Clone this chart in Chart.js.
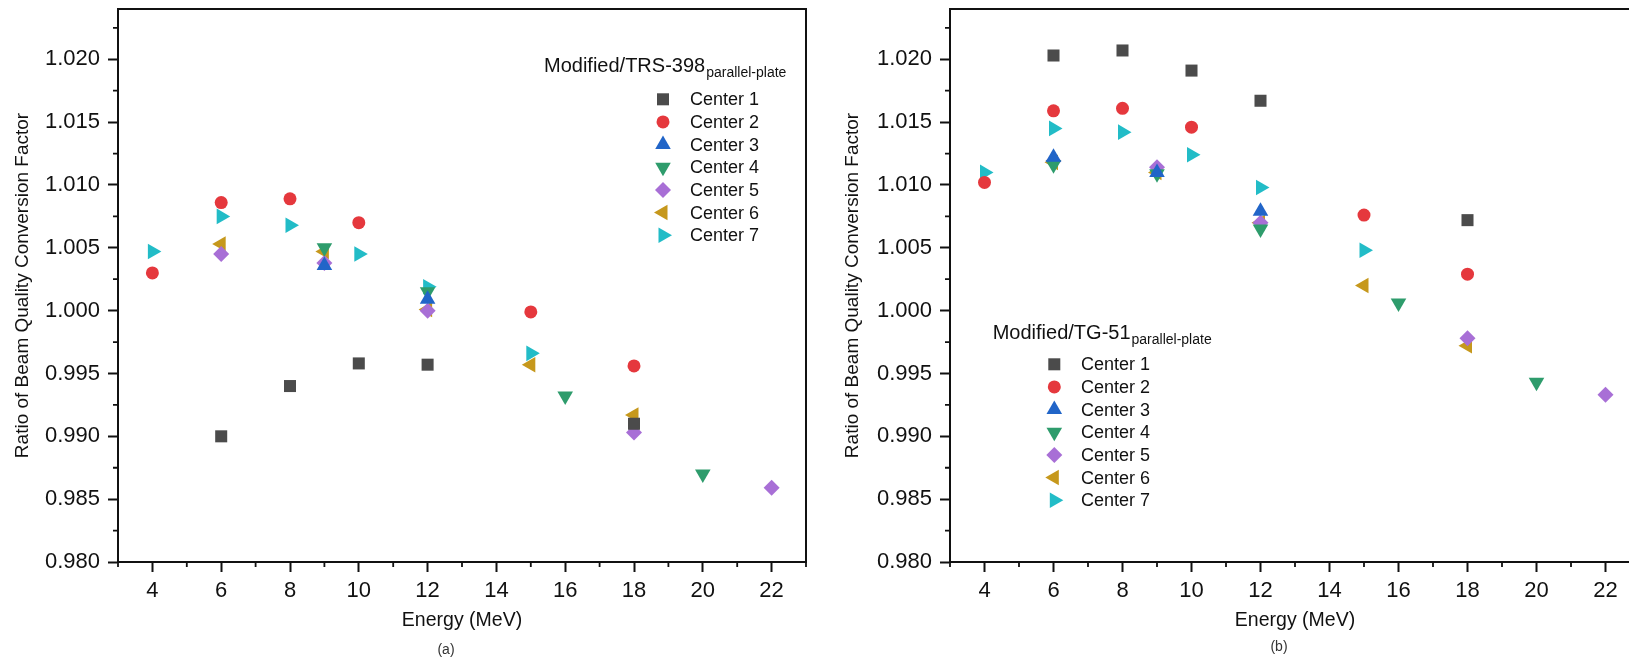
<!DOCTYPE html>
<html>
<head>
<meta charset="utf-8">
<script src="https://cdn.jsdelivr.net/npm/chart.js@4.4.1/dist/chart.umd.min.js"></script>
<style>
  html, body { margin: 0; padding: 0; width: 1629px; height: 658px; overflow: hidden; background: #fff; }
  .panel { position: absolute; top: 0; height: 658px; }
  #panelA { left: 0; width: 815px; }
  #panelB { left: 830px; width: 820px; }
  .caption { position: absolute; font: 14px 'Liberation Sans', Arial, sans-serif; color: #333; transform: translate(-50%, -50%); }
</style>
</head>
<body>
<div class="panel" id="panelA"><canvas id="chartA"></canvas></div>
<div class="panel" id="panelB"><canvas id="chartB"></canvas></div>
<div class="caption" style="left:446px; top:649px">(a)</div>
<div class="caption" style="left:1279px; top:646px">(b)</div>
<script>
// axis ticks
const xTicks = [4, 6, 8, 10, 12, 14, 16, 18, 20, 22];
const xMinorTicks = [3, 5, 7, 9, 11, 13, 15, 17, 19, 21, 23];
const yTicks = [0.980, 0.985, 0.990, 0.995, 1.000, 1.005, 1.010, 1.015, 1.020];
const yMinorTicks = [0.9825, 0.9875, 0.9925, 0.9975, 1.0025, 1.0075, 1.0125, 1.0175, 1.0225];

const centers = ['Center 1', 'Center 2', 'Center 3', 'Center 4', 'Center 5', 'Center 6', 'Center 7'];

// (a) Modified / TRS-398 parallel-plate
const trsC1E = [6, 8, 10, 12, 18];
const trsC1 = [0.9900, 0.9940, 0.9958, 0.9957, 0.9910];
const trsC2E = [4, 6, 8, 10, 15, 18];
const trsC2 = [1.0030, 1.0086, 1.0089, 1.0070, 0.9999, 0.9956];
const trsC3E = [9, 12];
const trsC3 = [1.0036, 1.0009];
const trsC4E = [9, 12, 16, 20];
const trsC4 = [1.0050, 1.0015, 0.9932, 0.9870];
const trsC5E = [6, 9, 12, 18, 22];
const trsC5 = [1.0045, 1.0038, 1.0000, 0.9903, 0.9859];
const trsC6E = [6, 9, 12, 15, 18];
const trsC6 = [1.0053, 1.0047, 1.0001, 0.9957, 0.9917];
const trsC7E = [4, 6, 8, 10, 12, 15];
const trsC7 = [1.0047, 1.0075, 1.0068, 1.0045, 1.0019, 0.9966];

// (b) Modified / TG-51 parallel-plate
const tgC1E = [6, 8, 10, 12, 18];
const tgC1 = [1.0203, 1.0207, 1.0191, 1.0167, 1.0072];
const tgC2E = [4, 6, 8, 10, 15, 18];
const tgC2 = [1.0102, 1.0159, 1.0161, 1.0146, 1.0076, 1.0029];
const tgC3E = [6, 9, 12];
const tgC3 = [1.0122, 1.0110, 1.0079];
const tgC4E = [6, 9, 12, 16, 20];
const tgC4 = [1.0116, 1.0109, 1.0065, 1.0006, 0.9943];
const tgC5E = [6, 9, 12, 18, 22];
const tgC5 = [1.0119, 1.0114, 1.0070, 0.9978, 0.9933];
const tgC6E = [6, 9, 12, 15, 18];
const tgC6 = [1.0118, 1.0110, 1.0070, 1.0020, 0.9972];
const tgC7E = [4, 6, 8, 10, 12, 15];
const tgC7 = [1.0110, 1.0145, 1.0142, 1.0124, 1.0098, 1.0048];

// marker styles, same order as centers
const colors = ['#4b4b4b', '#e5383d', '#2165c8', '#2e9c6c', '#a86fd6', '#c6981c', '#22bcc7'];
const shapes = ['rect', 'circle', 'triangle', 'triangle', 'rectRot', 'triangle', 'triangle'];
const rotations = [0, 0, 0, 180, 0, 270, 90];
const radii = [8.5, 6.5, 9, 9, 8, 9, 9];

const family = "'Liberation Sans', Arial, sans-serif";

function buildDatasets(series) {
  return series.map(([es, vs], i) => ({
    label: centers[i],
    data: es.map((e, k) => ({x: e, y: vs[k]})),
    backgroundColor: colors[i],
    pointStyle: shapes[i],
    pointRotation: rotations[i],
    pointRadius: radii[i],
    pointBorderWidth: 0,
    showLine: false
  }));
}

// frame box, minor ticks and the in-plot legend
const panelDecor = {
  id: 'panelDecor',
  afterDraw(chart, args, opts) {
    const {ctx, chartArea: a, scales: {x, y}} = chart;
    ctx.save();
    ctx.strokeStyle = '#111';
    ctx.lineWidth = 2;
    ctx.strokeRect(a.left, a.top, a.right - a.left, a.bottom - a.top);
    ctx.lineWidth = 1.8;
    ctx.beginPath();
    xMinorTicks.forEach(v => {
      const px = x.getPixelForValue(v);
      ctx.moveTo(px, a.bottom);
      ctx.lineTo(px, a.bottom + 5);
    });
    yMinorTicks.forEach(v => {
      const py = y.getPixelForValue(v);
      ctx.moveTo(a.left, py);
      ctx.lineTo(a.left - 5, py);
    });
    ctx.stroke();

    ctx.fillStyle = '#111';
    ctx.textBaseline = 'alphabetic';
    ctx.font = '20px ' + family;
    ctx.fillText(opts.title, opts.titleX, opts.titleY);
    const w = ctx.measureText(opts.title).width;
    ctx.font = '14px ' + family;
    ctx.fillText(opts.sub, opts.titleX + w + 1, opts.titleY + 5);

    ctx.font = '18px ' + family;
    ctx.textBaseline = 'middle';
    chart.data.datasets.forEach((ds, i) => {
      const yy = opts.itemY + i * 22.65;
      ctx.fillStyle = ds.backgroundColor;
      Chart.helpers.drawPoint(ctx, {
        pointStyle: ds.pointStyle, rotation: ds.pointRotation,
        radius: ds.pointRadius, borderWidth: 0
      }, opts.markerX, yy);
      ctx.fillStyle = '#111';
      ctx.fillText(ds.label, opts.textX, yy + 1);
    });
    ctx.restore();
  }
};

function makeChart(id, series, axisWidth, rightPad, legend) {
  return new Chart(document.getElementById(id), {
    type: 'scatter',
    data: {datasets: buildDatasets(series)},
    options: {
      responsive: true,
      maintainAspectRatio: false,
      animation: false,
      events: [],
      layout: {padding: {top: 6, right: rightPad, left: 0, bottom: 0}},
      plugins: {
        legend: {display: false},
        tooltip: {enabled: false},
        panelDecor: legend
      },
      scales: {
        x: {
          type: 'linear', min: 3, max: 23,
          afterBuildTicks: s => { s.ticks = xTicks.map(v => ({value: v})); },
          afterFit: s => { s.height = 96; s.paddingLeft = 0; s.paddingRight = 0; },
          grid: {drawOnChartArea: false, drawTicks: true, tickLength: 10, tickWidth: 2, tickColor: '#111'},
          border: {display: true, color: '#111', width: 2},
          ticks: {color: '#111', font: {size: 22, family}, padding: 6, maxRotation: 0, autoSkip: false},
          title: {display: true, text: 'Energy (MeV)', color: '#111',
                  font: {size: 19.5, family}, padding: {top: 0, bottom: 26}}
        },
        y: {
          type: 'linear', min: 0.980, max: 1.024,
          afterBuildTicks: s => { s.ticks = yTicks.map(v => ({value: v})); },
          afterFit: s => { s.width = axisWidth; s.paddingTop = 0; s.paddingBottom = 0; },
          grid: {drawOnChartArea: false, drawTicks: true, tickLength: 10, tickWidth: 2, tickColor: '#111'},
          border: {display: true, color: '#111', width: 2},
          ticks: {color: '#111', font: {size: 22, family}, padding: 8, autoSkip: false,
                  callback: v => v.toFixed(3)},
          title: {display: true, text: 'Ratio of Beam Quality Conversion Factor', color: '#111',
                  font: {size: 19, family}, padding: {top: 11, bottom: 0}}
        }
      }
    },
    plugins: [panelDecor]
  });
}

makeChart('chartA', [
  [trsC1E, trsC1], [trsC2E, trsC2], [trsC3E, trsC3], [trsC4E, trsC4],
  [trsC5E, trsC5], [trsC6E, trsC6], [trsC7E, trsC7]
], 118, 6, {
  title: 'Modified/TRS-398', sub: 'parallel-plate',
  titleX: 544, titleY: 72, markerX: 663, textX: 690, itemY: 99.3
});

makeChart('chartB', [
  [tgC1E, tgC1], [tgC2E, tgC2], [tgC3E, tgC3], [tgC4E, tgC4],
  [tgC5E, tgC5], [tgC6E, tgC6], [tgC7E, tgC7]
], 120, 10, {
  title: 'Modified/TG-51', sub: 'parallel-plate',
  titleX: 162.7, titleY: 339, markerX: 224.3, textX: 251, itemY: 364.3
});
</script>
</body>
</html>
